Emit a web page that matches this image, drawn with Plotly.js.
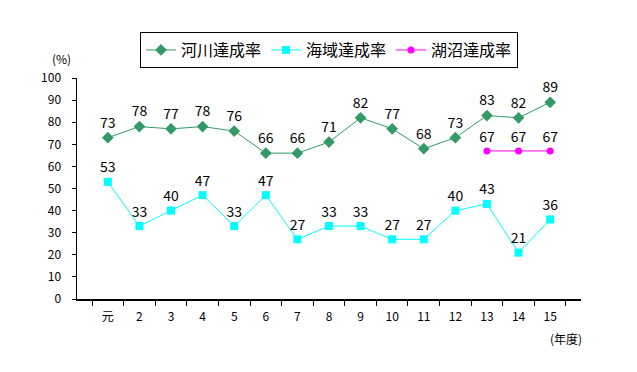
<!DOCTYPE html>
<html><head><meta charset="utf-8">
<script src="https://cdn.plot.ly/plotly-3.0.1.min.js"></script>
<style>body{margin:0;padding:0;background:#fff}#c{width:637px;height:372px}</style>
</head><body><div id="c"></div>
<script>
const years = ["元","2","3","4","5","6","7","8","9","10","11","12","13","14","15"];
const river = [73,78,77,78,76,66,66,71,82,77,68,73,83,82,89];
const sea = [53,33,40,47,33,47,27,33,33,27,27,40,43,21,36];
const lakeYears = ["13","14","15"];
const lake = [67,67,67];
const names = ["河川達成率","海域達成率","湖沼達成率"];
const F = "Noto Sans CJK JP, sans-serif";

function tr(name, x, y, color, symbol, size){
  return {type:"scatter", mode:"lines+markers+text", name:name, x:x, y:y,
    text:y.map(String), textposition:"top center",
    textfont:{family:F, size:14, color:"#000"},
    line:{color:color, width:1}, marker:{color:color, symbol:symbol, size:size},
    cliponaxis:false};
}
const data = [
  tr(names[0], years, river, "#339966", "diamond", 9),
  tr(names[1], years, sea, "#00FFFF", "square", 8),
  tr(names[2], lakeYears, lake, "#FF00FF", "circle", 7)
];
const layout = {
  width:637, height:372, margin:{l:77, r:56, t:78, b:73},
  paper_bgcolor:"#fff", plot_bgcolor:"#fff",
  font:{family:F, size:12, color:"#000"},
  showlegend:true,
  legend:{orientation:"h", x:0.5, xanchor:"center", y:1.045, yanchor:"bottom",
    bordercolor:"#000", borderwidth:1, font:{family:F, size:16, color:"#000"},
    itemwidth:30, tracegroupgap:0},
  xaxis:{type:"category", categoryorder:"array", categoryarray:years,
    showline:true, linecolor:"#000", linewidth:1.5, ticks:"outside", ticklen:5,
    tickcolor:"#000", tickson:"boundaries", showgrid:false, zeroline:false,
    ticklabelstandoff:6, tickfont:{family:F, size:12}},
  yaxis:{range:[0,100], dtick:10, showline:true, linecolor:"#000", linewidth:1.5,
    ticks:"outside", ticklen:4, tickcolor:"#000", showgrid:false, zeroline:false,
    ticklabelstandoff:8, tickfont:{family:F, size:12}},
  annotations:[
    {text:"(%)", xref:"paper", yref:"paper", x:-0.03, y:1.087, xanchor:"center", yanchor:"middle",
      showarrow:false, font:{family:F, size:12}},
    {text:"(年度)", xref:"paper", yref:"paper", x:0.97, y:-0.18, xanchor:"center", yanchor:"middle",
      showarrow:false, font:{family:F, size:12}}
  ]
};
Plotly.newPlot("c", data, layout, {displayModeBar:false, staticPlot:true});
</script></body></html>
